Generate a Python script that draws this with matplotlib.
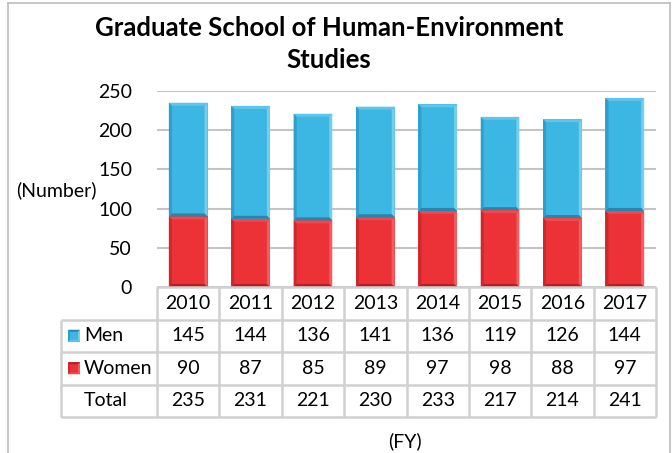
import numpy as np
import matplotlib.pyplot as plt
from matplotlib.patches import Polygon, Rectangle
from matplotlib.lines import Line2D

plt.rcParams['font.family'] = ['Lato', 'DejaVu Sans']

years = ["2010", "2011", "2012", "2013", "2014", "2015", "2016", "2017"]
men = [145, 144, 136, 141, 136, 119, 126, 144]
women = [90, 87, 85, 89, 97, 98, 88, 97]
total = [235, 231, 221, 230, 233, 217, 214, 241]

# face, top, left, right, bottom
blue = ["#3cb6e3", "#5ec6eb", "#2e9ecb", "#74cfec", "#2886ad"]
red = ["#ed3237", "#f0484c", "#cc292e", "#f25d60", "#b42125"]
grid_c = "#c4c4c4"
table_c = "#d0d0d0"

W, H = 672, 453


def fx(px):
    return px / W


def fy(py):
    return 1 - py / H


def bevel(ax, x, y, w, h, cols, bx, by):
    face, top, left, right, bottom = cols
    x1, y1 = x + w, y + h
    polys = [
        ([(x, y1), (x1, y1), (x1 - bx, y1 - by), (x + bx, y1 - by)], top),
        ([(x, y), (x, y1), (x + bx, y1 - by), (x + bx, y + by)], left),
        ([(x1, y), (x1, y1), (x1 - bx, y1 - by), (x1 - bx, y + by)], right),
        ([(x, y), (x1, y), (x1 - bx, y + by), (x + bx, y + by)], bottom),
    ]
    for p, c in polys:
        ax.add_patch(Polygon(p, closed=True, fc=c, ec="none", zorder=3,
                             clip_on=False))


fig = plt.figure(figsize=(6.72, 4.53), dpi=100)

# chart frame
for xs, ys in [([8, 8], [3, 460]), ([8, 670], [3, 3]), ([670, 670], [3, 460])]:
    fig.add_artist(Line2D([fx(v) for v in xs], [fy(v) for v in ys],
                          color="#bdbdbd", lw=1.2))

# main axes
L, R, T, B = 157, 656, 91, 287
ax = fig.add_axes([fx(L), fy(B), fx(R) - fx(L), (B - T) / H])
ax.set_xlim(-0.5, 7.5)
ax.set_ylim(0, 250)
ax.set_yticks(range(0, 251, 50))
ax.set_xticks([])
fs = 14
ax.tick_params(axis="y", length=0, pad=18, labelsize=fs)
for s in ax.spines.values():
    s.set_visible(False)
ax.grid(axis="y", color=grid_c, lw=1.5, zorder=0)
ax.set_axisbelow(True)

x = np.arange(len(years))
bw = 0.62
bx = 3 * 8 / (R - L)
by = 3 * 250 / (B - T)
b_w = ax.bar(x, women, bw, color=red[0], zorder=2)
b_m = ax.bar(x, men, bw, bottom=women, color=blue[0], zorder=2)
for bars, cols in [(b_w, red), (b_m, blue)]:
    for p in bars:
        bevel(ax, p.get_x(), p.get_y(), p.get_width(), p.get_height(),
              cols, bx, by)

# data table
TL, TB = 61, 417
unit = (R - L) / 8
lx = -0.5 - (L - TL) / unit
tax = fig.add_axes([fx(TL), fy(TB), fx(R) - fx(TL), (TB - B) / H])
tax.set_xlim(lx, 7.5)
tax.set_ylim(4, 0)
tax.axis("off")
tax.hlines(0, -0.5, 7.5, color=table_c, lw=1.8, clip_on=False)
tax.hlines([1, 2, 3, 4], lx, 7.5, color=table_c, lw=1.8, clip_on=False)
tax.vlines(np.arange(-0.5, 8), 0, 4, color=table_c, lw=1.8, clip_on=False)
tax.vlines(lx, 1, 4, color=table_c, lw=1.8, clip_on=False)

for i, yr in enumerate(years):
    tax.text(i, 0.5, yr, ha="center", va="center", fontsize=fs)
    tax.text(i, 1.5, str(men[i]), ha="center", va="center", fontsize=fs)
    tax.text(i, 2.5, str(women[i]), ha="center", va="center", fontsize=fs)
    tax.text(i, 3.5, str(total[i]), ha="center", va="center", fontsize=fs)

row_h = (TB - B) / 4
lab_x = lx + (84 - TL) / unit
sq_x = lx + (68 - TL) / unit
sq_w = 12 / unit
sq_h = 12 / row_h
for r, name, cols in [(1, "Men", blue), (2, "Women", red)]:
    y0 = r + 0.5 + sq_h / 2
    tax.add_patch(Rectangle((sq_x, y0), sq_w, -sq_h, fc=cols[0], ec="none",
                            zorder=2))
    bevel(tax, sq_x, y0, sq_w, -sq_h, [cols[0], cols[4], cols[2], cols[3], cols[1]],
          2 / unit, -2 / row_h)
    tax.text(lab_x, r + 0.5, name, ha="left", va="center", fontsize=fs)
tax.text(lab_x, 3.5, "Total", ha="left", va="center", fontsize=fs)

# titles and axis labels
fig.text(fx(329), fy(28), "Graduate School of Human-Environment",
         ha="center", va="center", fontsize=18.5, fontweight="bold")
fig.text(fx(329), fy(60), "Studies", ha="center", va="center",
         fontsize=18.5, fontweight="bold")
fig.text(fx(56), fy(190), "(Number)", ha="center", va="center", fontsize=fs)
fig.text(fx(405), fy(441), "(FY)", ha="center", va="center", fontsize=fs)

fig.savefig("out.png", dpi=100)
